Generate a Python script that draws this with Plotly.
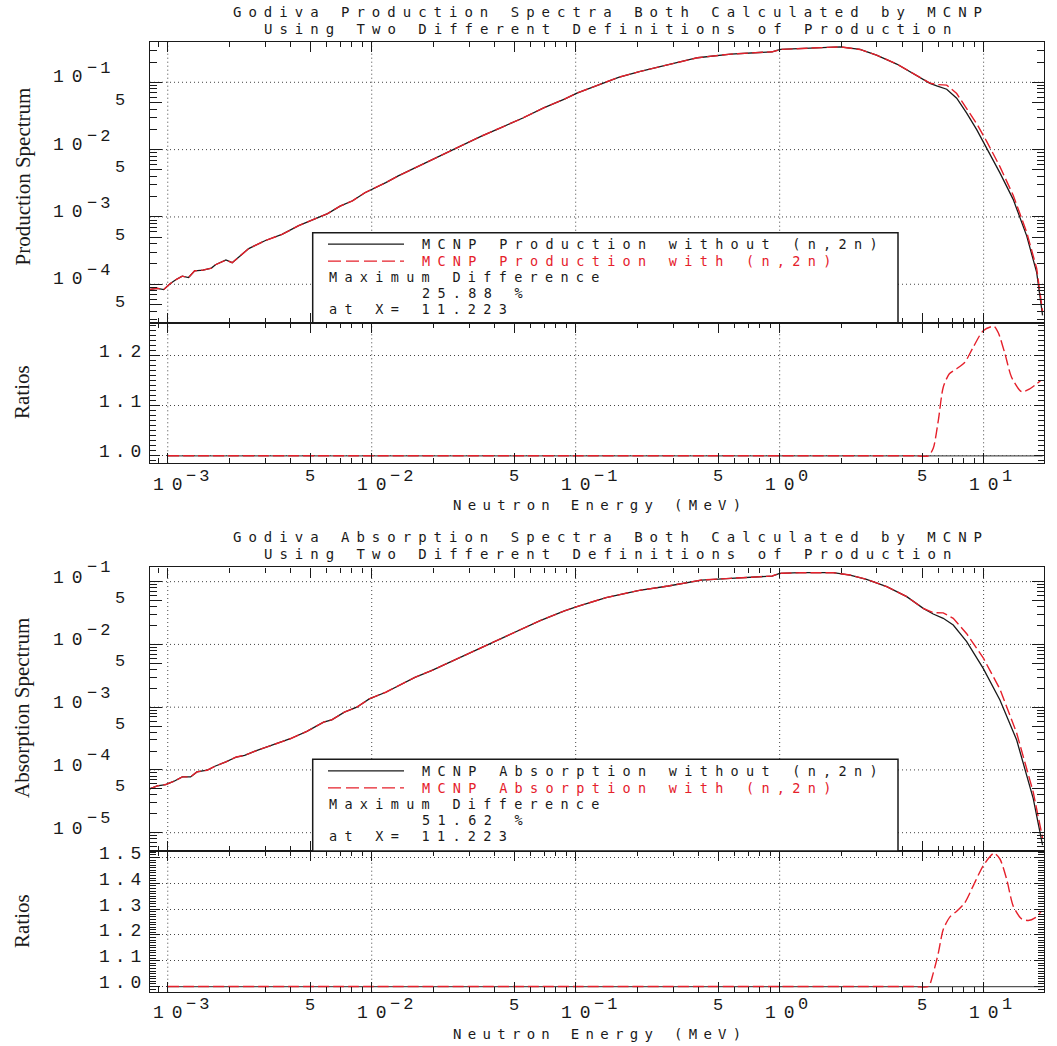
import math
import plotly.graph_objects as go

# ---------------- DATA ----------------
# Upper figure: production spectra
prod_energy = [8.09e-4, 8.89e-4, 9.55e-4, 1.023e-3, 1.099e-3, 1.178e-3, 1.265e-3, 1.355e-3,
               1.489e-3, 1.637e-3, 1.714e-3, 1.928e-3, 2.070e-3, 2.218e-3, 2.495e-3, 3.013e-3,
               3.631e-3, 4.385e-3, 5.284e-3, 6.081e-3, 6.998e-3, 8.054e-3, 9.268e-3, 1.019e-2,
               1.172e-2, 1.349e-2, 1.629e-2, 1.963e-2, 2.259e-2, 2.729e-2, 3.451e-2, 4.365e-2,
               5.508e-2, 6.966e-2, 8.810e-2, 0.1014, 0.1282, 0.1622, 0.2051, 0.2844, 0.3954,
               0.5754, 0.9183, 1.009, 1.259, 1.578, 1.977, 2.477, 2.985, 3.750, 4.519, 5.458,
               5.888, 6.592, 7.379, 8.260, 9.247, 10.35, 12.02, 13.96, 16.26, 18.20, 19.45]
prod_without = [8.34e-5, 8.71e-5, 8.32e-5, 1.01e-4, 1.175e-4, 1.318e-4, 1.259e-4, 1.585e-4,
                1.622e-4, 1.738e-4, 1.950e-4, 2.291e-4, 2.089e-4, 2.512e-4, 3.388e-4, 4.467e-4,
                5.495e-4, 7.413e-4, 9.333e-4, 1.122e-3, 1.445e-3, 1.738e-3, 2.291e-3, 2.630e-3,
                3.236e-3, 4.074e-3, 5.370e-3, 6.918e-3, 8.710e-3, 1.148e-2, 1.585e-2, 2.163e-2,
                2.951e-2, 4.169e-2, 5.623e-2, 6.918e-2, 9.120e-2, 0.1186, 0.1439, 0.1803, 0.2317,
                0.2624, 0.2838, 0.3076, 0.3177, 0.3289, 0.3365, 0.3076, 0.2535, 0.1866, 0.1358,
                0.09661, 0.08831, 0.07889, 0.05808, 0.03483, 0.01977, 0.01059, 4.519e-3, 1.824e-3,
                5.236e-4, 1.503e-4, 3.443e-5]
prod_with = [8.34e-5, 8.71e-5, 8.32e-5, 1.01e-4, 1.175e-4, 1.318e-4, 1.259e-4, 1.585e-4,
             1.622e-4, 1.738e-4, 1.950e-4, 2.291e-4, 2.089e-4, 2.512e-4, 3.388e-4, 4.467e-4,
             5.495e-4, 7.413e-4, 9.333e-4, 1.122e-3, 1.445e-3, 1.738e-3, 2.291e-3, 2.630e-3,
             3.236e-3, 4.074e-3, 5.370e-3, 6.918e-3, 8.710e-3, 1.148e-2, 1.585e-2, 2.163e-2,
             2.951e-2, 4.169e-2, 5.623e-2, 6.918e-2, 9.120e-2, 0.1186, 0.1439, 0.1803, 0.2317,
             0.2624, 0.2838, 0.3076, 0.3177, 0.3289, 0.3365, 0.3076, 0.2535, 0.1866, 0.1358,
             0.0971, 0.0927, 0.09088, 0.06819, 0.04159, 0.02428, 0.01327, 5.585e-3, 2.101e-3,
             5.927e-4, 1.719e-4, 3.966e-5]
prod_ratio_energy = [1.0e-3, 1.0e-2, 1.0e-1, 1.0, 3.0, 4.6, 5.358, 5.662, 5.998, 6.339, 6.792,
                     7.379, 8.091, 8.892, 9.954, 11.223, 11.80, 12.74, 13.71, 15.35, 16.87, 19.01]
prod_ratio = [1.0, 1.0, 1.0, 1.0, 1.0, 1.0, 1.0, 1.015, 1.071, 1.137, 1.164,
              1.174, 1.187, 1.217, 1.250, 1.2588, 1.246, 1.203, 1.157, 1.128, 1.134, 1.150]

# Lower figure: absorption spectra
abs_energy = [8.09e-4, 8.89e-4, 9.77e-4, 1.074e-3, 1.178e-3, 1.294e-3, 1.390e-3, 1.560e-3,
              1.714e-3, 1.928e-3, 2.168e-3, 2.382e-3, 2.742e-3, 3.304e-3, 3.990e-3, 4.808e-3,
              5.808e-3, 6.368e-3, 7.345e-3, 8.453e-3, 9.727e-3, 1.172e-2, 1.349e-2, 1.629e-2,
              1.963e-2, 2.259e-2, 2.858e-2, 3.784e-2, 5.023e-2, 6.653e-2, 8.810e-2, 0.1014,
              0.1409, 0.2051, 0.2844, 0.4140, 0.5754, 0.9183, 1.0, 1.259, 1.832, 2.213, 2.667,
              3.350, 4.198, 5.058, 5.662, 6.339, 7.096, 8.260, 9.954, 12.02, 14.52, 17.50, 19.45]
abs_without = [4.93e-5, 5.57e-5, 5.85e-5, 6.61e-5, 7.74e-5, 7.74e-5, 9.29e-5, 9.89e-5,
               1.156e-4, 1.340e-4, 1.607e-4, 1.710e-4, 2.051e-4, 2.523e-4, 3.141e-4, 4.111e-4,
               5.781e-4, 6.295e-4, 8.337e-4, 1.0e-3, 1.355e-3, 1.730e-3, 2.208e-3, 2.992e-3,
               3.819e-3, 4.699e-3, 6.776e-3, 1.012e-2, 1.549e-2, 2.377e-2, 3.420e-2, 4.009e-2,
               5.572e-2, 7.278e-2, 8.531e-2, 0.1062, 0.1130, 0.1230, 0.1358, 0.1390, 0.1390,
               0.1276, 0.1089, 0.08318, 0.05768, 0.03758, 0.03055, 0.02606, 0.02037, 0.01107,
               4.159e-3, 1.300e-3, 2.999e-4, 3.524e-5, 6.353e-6]
abs_with = [4.93e-5, 5.57e-5, 5.85e-5, 6.61e-5, 7.74e-5, 7.74e-5, 9.29e-5, 9.89e-5,
            1.156e-4, 1.340e-4, 1.607e-4, 1.710e-4, 2.051e-4, 2.523e-4, 3.141e-4, 4.111e-4,
            5.781e-4, 6.295e-4, 8.337e-4, 1.0e-3, 1.355e-3, 1.730e-3, 2.208e-3, 2.992e-3,
            3.819e-3, 4.699e-3, 6.776e-3, 1.012e-2, 1.549e-2, 2.377e-2, 3.420e-2, 4.009e-2,
            5.572e-2, 7.278e-2, 8.531e-2, 0.1062, 0.1130, 0.1230, 0.1358, 0.1390, 0.1390,
            0.1276, 0.1089, 0.08318, 0.05768, 0.03758, 0.03214, 0.03182, 0.02609, 0.01482,
            6.105e-3, 1.942e-3, 3.872e-4, 4.451e-5, 8.208e-6]
abs_ratio_energy = [1.0e-3, 1.0e-2, 1.0e-1, 1.0, 3.0, 4.6, 5.358, 5.662, 5.998, 6.339, 6.839,
                    7.379, 8.091, 8.892, 9.954, 11.223, 12.02, 12.97, 13.96, 15.35, 16.56, 17.86,
                    19.23]
abs_ratio = [1.0, 1.0, 1.0, 1.0, 1.0, 1.0, 1.0, 1.052, 1.130, 1.221, 1.270,
             1.292, 1.325, 1.390, 1.468, 1.5162, 1.494, 1.416, 1.312, 1.262, 1.256, 1.266,
             1.292]

# Ratio of the reference curve to itself
ref_ratio_energy = [1.0e-3, 19.45]
ref_ratio = [1.0, 1.0]

# Texts
titles = [["Godiva Production Spectra Both Calculated by MCNP",
           "Using Two Different Definitions of Production"],
          ["Godiva Absorption Spectra Both Calculated by MCNP",
           "Using Two Different Definitions of Production"]]
y_titles = ["Production Spectrum", "Absorption Spectrum"]
legend_without = ["MCNP Production without (n,2n)", "MCNP Absorption without (n,2n)"]
legend_with = ["MCNP Production with (n,2n)", "MCNP Absorption with (n,2n)"]
max_diff = ["25.88 %", "51.62 %"]
max_at = ["at X= 11.223", "at X= 11.223"]
x_title = "Neutron Energy (MeV)"
ratio_title = "Ratios"

# Tick values / labels
x_decades = [1e-3, 1e-2, 1e-1, 1e0, 1e1]
x_exps = ["\u22123", "\u22122", "\u22121", "0", "1"]
x_fives = [5e-3, 5e-2, 5e-1, 5e0]
top_decades = [1e-4, 1e-3, 1e-2, 1e-1]
top_exps = ["\u22124", "\u22123", "\u22122", "\u22121"]
top_fives = [5e-5, 5e-4, 5e-3, 5e-2]
bot_decades = [1e-5, 1e-4, 1e-3, 1e-2, 1e-1]
bot_exps = ["\u22125", "\u22124", "\u22123", "\u22122", "\u22121"]
bot_fives = [5e-5, 5e-4, 5e-3, 5e-2]
top_ratio_ticks = [1.0, 1.1, 1.2]
bot_ratio_ticks = [1.0, 1.1, 1.2, 1.3, 1.4, 1.5]

# ---------------- STYLE / LAYOUT ----------------
W, H = 1057, 1046
MONO = "Liberation Mono"
TXT = "DejaVu Sans Mono"
SERIF = "Liberation Serif"
INK = "#1a1a1a"
RED = "#e5202b"
GRID = "#444444"
GRID_DASH = "1px,3px"


def fx(p):
    return p / W


def fy(p):
    return 1 - p / H


def spaced(text, s):
    """Letter-spaced text without trailing space after the last character."""
    if len(text) <= 1:
        return text
    return "<span style='letter-spacing:%.1fpx'>%s</span>%s" % (s, text[:-1], text[-1])


X_L, X_R = 150.0, 1044.0
X_RANGE = [-3.087, 1.296]
MANT = [2, 3, 4, 6, 7, 8, 9]

panels = [
    dict(main_top=41.7, main_bot=322.7, ratio_bot=463.3, title_y=(12, 29),
         y_range=[-4.571, -0.397], r_range=[0.985, 1.266],
         energy=prod_energy, without=prod_without, withv=prod_with,
         r_energy=prod_ratio_energy, ratio=prod_ratio,
         decades=top_decades, exps=top_exps, fives=top_fives, r_ticks=top_ratio_ticks,
         ytitle_y=176.5, rtitle_y=392, box_top=232.7, xtitle_y=505,
         dec_shift=(5, 13.5)),
    dict(main_top=567.3, main_bot=851.0, ratio_bot=991.7, title_y=(537, 554),
         y_range=[-5.292, -0.771], r_range=[0.980, 1.525],
         energy=abs_energy, without=abs_without, withv=abs_with,
         r_energy=abs_ratio_energy, ratio=abs_ratio,
         decades=bot_decades, exps=bot_exps, fives=bot_fives, r_ticks=bot_ratio_ticks,
         ytitle_y=708, rtitle_y=921, box_top=759.3, xtitle_y=1034,
         dec_shift=(4, 14)),
]

fig = go.Figure()
layout = dict(width=W, height=H, autosize=False,
              margin=dict(l=0, r=0, t=0, b=0, pad=0),
              paper_bgcolor="white", plot_bgcolor="white", showlegend=False)
shapes = []
annotations = []

common_axis = dict(showline=True, linecolor=INK, linewidth=1.4, mirror="allticks",
                   ticks="inside", tickcolor=INK, tickwidth=1.1, showgrid=False,
                   zeroline=False, showticklabels=False)


def ann(text, x, y, xref="paper", yref="paper", xanchor="center", yanchor="middle",
        size=18, color=INK, family=MONO, xshift=0, yshift=0, angle=0):
    annotations.append(dict(text=text, x=x, y=y, xref=xref, yref=yref, xanchor=xanchor,
                            yanchor=yanchor, showarrow=False, xshift=xshift, yshift=yshift,
                            textangle=angle, borderpad=0,
                            font=dict(family=family, size=size, color=color)))


x_minor = [m * 10.0 ** k for k in range(-4, 2) for m in MANT]

for i, p in enumerate(panels):
    n_main, n_rat = 2 * i + 1, 2 * i + 2
    xm = "x" if n_main == 1 else "x%d" % n_main
    ym = "y" if n_main == 1 else "y%d" % n_main
    xr, yr = "x%d" % n_rat, "y%d" % n_rat
    kxm = "xaxis" if n_main == 1 else "xaxis%d" % n_main
    kym = "yaxis" if n_main == 1 else "yaxis%d" % n_main
    kxr, kyr = "xaxis%d" % n_rat, "yaxis%d" % n_rat

    # traces
    fig.add_trace(go.Scatter(x=p["energy"], y=p["without"], xaxis=xm, yaxis=ym, mode="lines",
                             line=dict(color=INK, width=1.3)))
    fig.add_trace(go.Scatter(x=p["energy"], y=p["withv"], xaxis=xm, yaxis=ym, mode="lines",
                             line=dict(color=RED, width=1.4, dash="11px,4px")))
    fig.add_trace(go.Scatter(x=ref_ratio_energy, y=ref_ratio, xaxis=xr, yaxis=yr, mode="lines",
                             line=dict(color="#555555", width=1.3)))
    fig.add_trace(go.Scatter(x=p["r_energy"], y=p["ratio"], xaxis=xr, yaxis=yr, mode="lines",
                             line=dict(color=RED, width=1.4, dash="11px,4px", shape="spline",
                                       smoothing=0.7)))

    xdom = [fx(X_L), fx(X_R)]
    x_axis = dict(common_axis, domain=xdom, type="log", range=X_RANGE, tickmode="array",
                  tickvals=x_decades + x_fives, ticklen=10,
                  minor=dict(tickmode="array", tickvals=x_minor, ticklen=5, ticks="inside",
                             tickcolor=INK, tickwidth=1, showgrid=False))
    layout[kxm] = dict(x_axis, anchor=ym)
    layout[kxr] = dict(x_axis, anchor=yr)

    y_minor = [m * 10.0 ** k for k in range(-6, 1) for m in MANT]
    layout[kym] = dict(common_axis, domain=[fy(p["main_bot"]), fy(p["main_top"])], anchor=xm,
                       type="log", range=p["y_range"], tickmode="array",
                       tickvals=p["decades"] + p["fives"], ticklen=12,
                       minor=dict(tickmode="array", tickvals=y_minor, ticklen=7, ticks="inside",
                                  tickcolor=INK, tickwidth=1, showgrid=False))
    layout[kyr] = dict(common_axis, domain=[fy(p["ratio_bot"]), fy(p["main_bot"])], anchor=xr,
                       type="linear", range=p["r_range"], tickmode="array",
                       tickvals=p["r_ticks"], ticklen=10,
                       showgrid=True, gridcolor=GRID, gridwidth=1, griddash=GRID_DASH,
                       minor=dict(tickmode="linear", tick0=1.0, dtick=0.01, ticklen=6,
                                  ticks="inside", tickcolor=INK, tickwidth=1, showgrid=False))

    # dotted grid lines at decades
    for d in x_decades:
        for xa, ya in ((xm, ym), (xr, yr)):
            shapes.append(dict(type="line", xref=xa, yref=ya + " domain", x0=d, x1=d, y0=0, y1=1,
                               line=dict(color=GRID, width=1, dash=GRID_DASH), layer="below"))
    for d in p["decades"]:
        shapes.append(dict(type="line", xref=xm + " domain", yref=ym, x0=0, x1=1, y0=d, y1=d,
                           line=dict(color=GRID, width=1, dash=GRID_DASH), layer="below"))

    # legend box
    bt = p["box_top"]
    shapes.append(dict(type="rect", xref="paper", yref="paper", x0=fx(312.7), x1=fx(898),
                       y0=fy(p["main_bot"]), y1=fy(bt), fillcolor="white",
                       line=dict(color=INK, width=1.5), layer="above"))
    shapes.append(dict(type="line", xref="paper", yref="paper", x0=fx(328), x1=fx(404),
                       y0=fy(bt + 11.5), y1=fy(bt + 11.5),
                       line=dict(color=INK, width=1.3), layer="above"))
    shapes.append(dict(type="line", xref="paper", yref="paper", x0=fx(328), x1=fx(404),
                       y0=fy(bt + 28.5), y1=fy(bt + 28.5),
                       line=dict(color=RED, width=1.3, dash="13px,5px"), layer="above"))
    LS = 7.3
    ann(spaced(legend_without[i], LS), fx(421), fy(bt + 11.5), xanchor="left", family=TXT, size=13.5)
    ann(spaced(legend_with[i], LS), fx(421), fy(bt + 28.5), xanchor="left", color=RED,
        family=TXT, size=13.5)
    ann(spaced("Maximum Difference", LS), fx(328), fy(bt + 44.5), xanchor="left", family=TXT,
        size=13.5)
    ann(spaced(max_diff[i], LS), fx(421), fy(bt + 60.5), xanchor="left", family=TXT, size=13.5)
    ann(spaced(max_at[i], LS), fx(328), fy(bt + 76.5), xanchor="left", family=TXT, size=13.5)

    # titles
    ann(spaced(titles[i][0], 7.0), fx(607.5), fy(p["title_y"][0]), family=TXT, size=14)
    ann(spaced(titles[i][1], 7.0), fx(607.5), fy(p["title_y"][1]), family=TXT, size=14)
    ann(spaced(x_title, 6.3), fx(597), fy(p["xtitle_y"]), family=TXT, size=14)
    ann(y_titles[i], fx(22), fy(p["ytitle_y"]), family=SERIF, size=21, angle=-90)
    ann(ratio_title, fx(22), fy(p["rtitle_y"]), family=SERIF, size=21, angle=-90)

    # x tick labels (below ratio plot)
    rb = p["ratio_bot"]
    for d, e in zip(x_decades, x_exps):
        ann(spaced("10", 8), math.log10(d), fy(rb + 21.5), xref=xr, xshift=0.5)
        ann(spaced(e, 3), math.log10(d), fy(rb + 13), xref=xr, xanchor="left", xshift=17,
            size=17)
    for f in x_fives:
        ann("5", math.log10(f), fy(rb + 13.5), xref=xr, size=17)

    # y tick labels (main log axis)
    s10, sexp = p["dec_shift"]
    for d, e in zip(p["decades"], p["exps"]):
        ann(spaced("10", 8), fx(67.5), math.log10(d), yref=ym, yshift=s10)
        ann(spaced(e, 3), fx(85.5), math.log10(d), yref=ym, xanchor="left", yshift=sexp, size=17)
    for f in p["fives"]:
        ann("5", fx(119.5), math.log10(f), yref=ym, yshift=2, size=17)
    # ratio tick labels
    for t in p["r_ticks"]:
        ann(spaced("%.1f" % t, 5), fx(142), t, yref=yr, xanchor="right", yshift=3.5)

layout["shapes"] = shapes
layout["annotations"] = annotations
fig.update_layout(**layout)
fig.write_html("out.html", config={"displayModeBar": False},
               post_script="document.body.style.margin='0px';document.body.style.overflow='hidden';")
